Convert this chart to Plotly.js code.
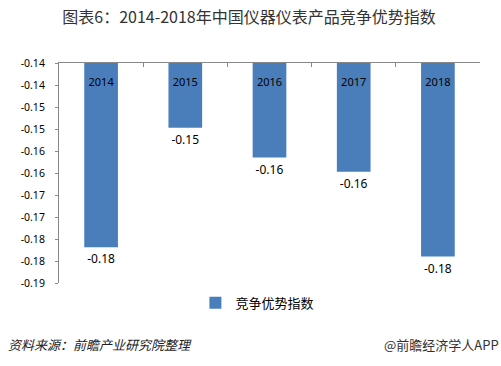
<!DOCTYPE html>
<html>
<head>
<meta charset="utf-8">
<script src="https://cdn.plot.ly/plotly-3.0.1.min.js"></script>
<style>html,body{margin:0;padding:0;background:#fff;}#chart{width:501px;height:366px;}</style>
</head>
<body>
<div id="chart"></div>
<script>
const years = ['2014', '2015', '2016', '2017', '2018'];
const values = [-0.1819, -0.1547, -0.1615, -0.1647, -0.1840];
const seriesName = '竞争优势指数';
const yTickVals = [-0.14, -0.145, -0.15, -0.155, -0.16, -0.165, -0.17, -0.175, -0.18, -0.185, -0.19];
const yTickText = ['-0.14', '-0.14', '-0.15', '-0.15', '-0.16', '-0.16', '-0.17', '-0.17', '-0.18', '-0.18', '-0.19'];

const cjk = '"Noto Sans CJK SC", "Noto Sans", sans-serif';
const latin = '"Noto Sans", "Noto Sans CJK SC", sans-serif';

const trace = {
  type: 'bar',
  x: years,
  y: values,
  name: seriesName,
  marker: {color: '#4a7ebb'},
  texttemplate: '%{y:.2f}',
  textposition: 'outside',
  textfont: {family: latin, size: 12, color: '#000'},
  cliponaxis: false,
  hoverinfo: 'skip'
};

const layout = {
  width: 501,
  height: 366,
  margin: {l: 59, r: 21, t: 63, b: 83},
  paper_bgcolor: '#fff',
  plot_bgcolor: '#fff',
  bargap: 0.6,
  title: {
    text: '图表6：2014-2018年中国仪器仪表产品竞争优势指数',
    font: {family: cjk, size: 16, color: '#333'},
    x: 0.497, xanchor: 'center',
    y: 0.953, yanchor: 'middle'
  },
  xaxis: {
    type: 'category',
    side: 'top',
    showline: true,
    linecolor: '#888',
    linewidth: 1,
    ticks: 'inside',
    ticklen: 4,
    tickcolor: '#888',
    tickson: 'boundaries',
    ticklabelposition: 'outside',
    ticklabelstandoff: -28,
    tickfont: {family: latin, size: 11, color: '#000'},
    showgrid: false,
    zeroline: false,
    fixedrange: true
  },
  yaxis: {
    range: [-0.19, -0.14],
    tickmode: 'array',
    tickvals: yTickVals,
    ticktext: yTickText,
    showline: true,
    linecolor: '#888',
    linewidth: 1,
    ticks: 'outside',
    ticklen: 3,
    tickcolor: '#888',
    ticklabelstandoff: 8,
    tickfont: {family: latin, size: 10.5, color: '#000'},
    showgrid: false,
    zeroline: false,
    fixedrange: true
  },
  showlegend: true,
  legend: {
    orientation: 'h',
    x: 0.324, xanchor: 'left',
    y: -0.09, yanchor: 'middle',
    font: {family: cjk, size: 13, color: '#000'},
    itemwidth: 30
  },
  annotations: [
    {
      text: '<i>资料来源：前瞻产业研究院整理</i>',
      xref: 'paper', yref: 'paper',
      x: -0.125, xanchor: 'left',
      y: -0.28, yanchor: 'middle',
      showarrow: false,
      font: {family: cjk, size: 13, color: '#222'}
    },
    {
      text: '@前瞻经济学人APP',
      xref: 'paper', yref: 'paper',
      x: 1.05, xanchor: 'right',
      y: -0.28, yanchor: 'middle',
      showarrow: false,
      font: {family: cjk, size: 13, color: '#333'}
    }
  ]
};

Plotly.newPlot('chart', [trace], layout, {displayModeBar: false, staticPlot: true});
</script>
</body>
</html>
